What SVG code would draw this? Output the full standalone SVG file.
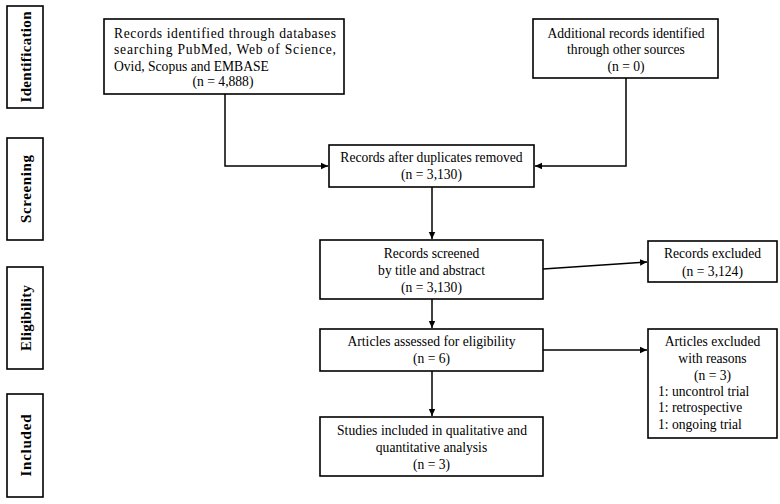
<svg xmlns="http://www.w3.org/2000/svg" width="780" height="504" viewBox="0 0 780 504">
<style>
.box{fill:#fff;stroke:#000;stroke-width:1.6}
.t{font-family:"Liberation Serif","Times New Roman",serif;font-size:13.6px;fill:#000}
.c{text-anchor:middle}
.side{font-family:"Liberation Serif","Times New Roman",serif;font-size:15px;font-weight:bold;fill:#000;text-anchor:middle}
.ln{fill:none;stroke:#000;stroke-width:1.5}
</style>
<defs>
<marker id="ah" markerWidth="8" markerHeight="8" refX="7" refY="4" orient="auto" markerUnits="userSpaceOnUse">
<path d="M0,0.8 L7,4 L0,7.2 Z" fill="#000"/>
</marker>
</defs>
<g id="stage-identification"><rect class="box" x="7" y="6" width="36" height="102"/><text class="side" transform="translate(30.5,57) rotate(-90)" textLength="91" lengthAdjust="spacing">Identification</text></g>
<g id="stage-screening"><rect class="box" x="7" y="138" width="36" height="102"/><text class="side" transform="translate(30.5,189) rotate(-90)" textLength="68" lengthAdjust="spacing">Screening</text></g>
<g id="stage-eligibility"><rect class="box" x="7" y="267" width="36" height="102"/><text class="side" transform="translate(30.5,318) rotate(-90)" textLength="66" lengthAdjust="spacing">Eligibility</text></g>
<g id="stage-included"><rect class="box" x="7" y="394" width="36" height="103"/><text class="side" transform="translate(30.5,445.5) rotate(-90)" textLength="62" lengthAdjust="spacing">Included</text></g>

<g id="connectors">
<polyline class="ln" points="225,94 225,166 328,166" marker-end="url(#ah)"/>
<polyline class="ln" points="626,78 626,166 535,166" marker-end="url(#ah)"/>
<line class="ln" x1="432" y1="187" x2="432" y2="239" marker-end="url(#ah)"/>
<line class="ln" x1="543" y1="269" x2="647" y2="262" marker-end="url(#ah)"/>
<line class="ln" x1="432" y1="299" x2="432" y2="328" marker-end="url(#ah)"/>
<line class="ln" x1="543" y1="350" x2="647" y2="350" marker-end="url(#ah)"/>
<line class="ln" x1="432" y1="371" x2="432" y2="416" marker-end="url(#ah)"/>
</g>

<g id="n1"><rect class="box" x="104" y="19" width="240" height="75"/>
<text class="t" x="114" y="37.5" textLength="222" lengthAdjust="spacing">Records identified through databases</text>
<text class="t" x="114" y="54" textLength="222" lengthAdjust="spacing">searching PubMed, Web of Science,</text>
<text class="t" x="114" y="70.5">Ovid, Scopus and EMBASE</text>
<text class="t c" x="223" y="86">(n = 4,888)</text></g>

<g id="n2"><rect class="box" x="533" y="19" width="185" height="59"/>
<text class="t c" x="626" y="37.5">Additional  records identified</text>
<text class="t c" x="626" y="54">through  other  sources</text>
<text class="t c" x="626" y="70.5">(n = 0)</text></g>

<g id="n3"><rect class="box" x="329" y="145" width="205" height="42"/>
<text class="t c" x="431.5" y="162">Records after duplicates  removed</text>
<text class="t c" x="431.5" y="178.5">(n = 3,130)</text></g>

<g id="n4"><rect class="box" x="320" y="240" width="223" height="59"/>
<text class="t c" x="431.5" y="258">Records screened</text>
<text class="t c" x="431.5" y="275">by title  and abstract</text>
<text class="t c" x="431.5" y="291.5">(n = 3,130)</text></g>

<g id="n5"><rect class="box" x="648" y="241" width="129" height="41"/>
<text class="t c" x="712.5" y="258">Records excluded</text>
<text class="t c" x="712.5" y="275.5">(n = 3,124)</text></g>

<g id="n6"><rect class="box" x="320" y="329" width="223" height="42"/>
<text class="t c" x="431.5" y="346">Articles  assessed for eligibility</text>
<text class="t c" x="431.5" y="363">(n = 6)</text></g>

<g id="n7"><rect class="box" x="648" y="329" width="129" height="109"/>
<text class="t c" x="712.5" y="346">Articles  excluded</text>
<text class="t c" x="712.5" y="363">with  reasons</text>
<text class="t c" x="712.5" y="379.5">(n = 3)</text>
<text class="t" x="658" y="396">1: uncontrol  trial</text>
<text class="t" x="658" y="412">1: retrospective</text>
<text class="t" x="658" y="428.5">1: ongoing  trial</text></g>

<g id="n8"><rect class="box" x="320" y="417" width="223" height="59"/>
<text class="t" x="337" y="435" textLength="190" lengthAdjust="spacing">Studies included in qualitative and</text>
<text class="t c" x="431.5" y="452">quantitative  analysis</text>
<text class="t c" x="431.5" y="468.5">(n = 3)</text></g>
</svg>
